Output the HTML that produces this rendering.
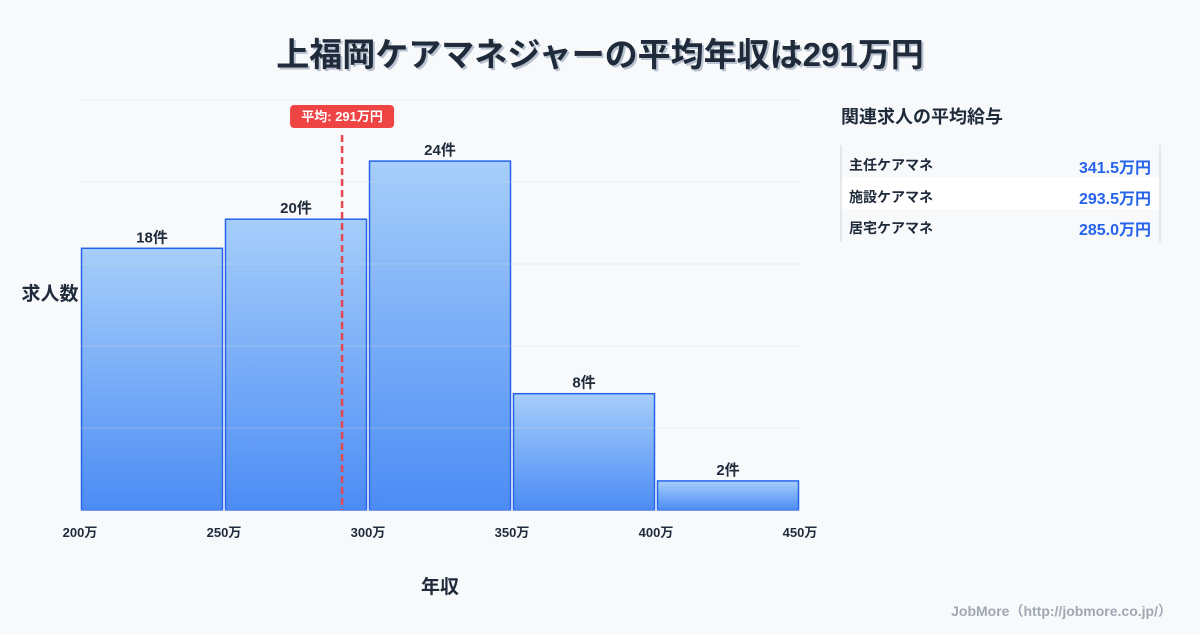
<!DOCTYPE html>
<html><head><meta charset="utf-8">
<style>
body{margin:0;width:1200px;height:630px;background:#f8f9fb;font-family:"Liberation Sans","Noto Sans CJK JP",sans-serif;overflow:hidden}
svg text{font-family:"Liberation Sans","Noto Sans CJK JP",sans-serif}
</style></head><body>
<svg width="1200" height="630">
<defs>
<linearGradient id="g" x1="0" y1="0" x2="0" y2="1"><stop offset="0" stop-color="#a7cefb"/><stop offset="1" stop-color="#4b8cf5"/></linearGradient>
</defs>
<text x="600" y="66" text-anchor="middle" font-size="33" font-weight="bold" fill="#b8c2d0" transform="translate(2,2)">上福岡ケアマネジャーの平均年収は291万円</text>
<text x="600" y="66" text-anchor="middle" font-size="33" font-weight="bold" fill="#1f2a3a">上福岡ケアマネジャーの平均年収は291万円</text>
<g id="plot"></g>
<text x="50" y="300" text-anchor="middle" font-size="19" font-weight="bold" fill="#1f2a3a">求人数</text>
<text x="440" y="593" text-anchor="middle" font-size="19" font-weight="bold" fill="#1f2a3a">年収</text>
<text x="841" y="123" font-size="18" font-weight="bold" fill="#1f2a3a">関連求人の平均給与</text>
<line x1="841" y1="145" x2="841" y2="242" stroke="#d0d6de"/>
<line x1="1160" y1="145" x2="1160" y2="242" stroke="#d0d6de"/>
<rect x="842" y="177" width="317" height="32" fill="#ffffff"/>
<g font-size="14" font-weight="bold">
<text x="849" y="170" fill="#1f2a3a">主任ケアマネ</text>
<text x="1151" y="173" text-anchor="end" font-size="16" fill="#2563eb">341.5万円</text>
<text x="849" y="202" fill="#1f2a3a">施設ケアマネ</text>
<text x="1151" y="204" text-anchor="end" font-size="16" fill="#2563eb">293.5万円</text>
<text x="849" y="233" fill="#1f2a3a">居宅ケアマネ</text>
<text x="1151" y="235" text-anchor="end" font-size="16" fill="#2563eb">285.0万円</text>
</g>
<text x="1172" y="616" text-anchor="end" font-size="14" font-weight="bold" fill="#a0a8b3">JobMore（http://jobmore.co.jp/）</text>
</svg>
<script>
const binStarts=[200,250,300,350,400];
const binWidth=50;
const counts=[18,20,24,8,2];
const xTicks=[200,250,300,350,400,450];
const meanValue=291;
const yMax=28.2;
const X0=80,X1=800,Y0=510,Y1=100;
const xs=v=>X0+(v-200)/(450-200)*(X1-X0);
const ys=v=>Y0-v/yMax*(Y0-Y1);
const NS="http://www.w3.org/2000/svg";
const plot=document.getElementById('plot');
function mk(t,a){const e=document.createElementNS(NS,t);for(const k in a)e.setAttribute(k,a[k]);plot.appendChild(e);return e;}
counts.forEach((c,i)=>{
 const x=xs(binStarts[i])+1.5,w=xs(binStarts[i]+binWidth)-xs(binStarts[i])-3;
 const r=mk('rect',{x:x,y:ys(c),width:w,height:Y0-ys(c),fill:'url(#g)',stroke:'#2563eb','stroke-width':1.5});
 
 
 const t=mk('text',{x:x+w/2,y:ys(c)-6,'text-anchor':'middle','font-size':15,'font-weight':'bold',fill:'#1f2a3a'});
 t.textContent=c+'件';
 
 
});
for(let k=0;k<=5;k++){
 const y=Y1+k*(Y0-Y1)/5;
 const l=mk('line',{x1:X0,x2:X1,y1:y,y2:y,stroke:'#cfd6e0','stroke-opacity':0.35});
 
 
}
xTicks.forEach(v=>{
 const t=mk('text',{x:xs(v),y:537,'text-anchor':'middle','font-size':13,'font-weight':'bold',fill:'#1f2a3a'});
 t.textContent=v+'万';
 
 
});
const mx=xs(meanValue);
const ml=mk('line',{x1:mx,x2:mx,y1:135,y2:Y0,stroke:'#e34850','stroke-width':2.5,'stroke-dasharray':'7,4'});


const mb=mk('rect',{x:mx-52,y:105,width:104,height:23,rx:4,fill:'#ef4444'});


const mt=mk('text',{x:mx,y:121,'text-anchor':'middle','font-size':13,'font-weight':'bold',fill:'#fff'});
mt.textContent='平均: '+meanValue+'万円';


</script>
</body></html>
